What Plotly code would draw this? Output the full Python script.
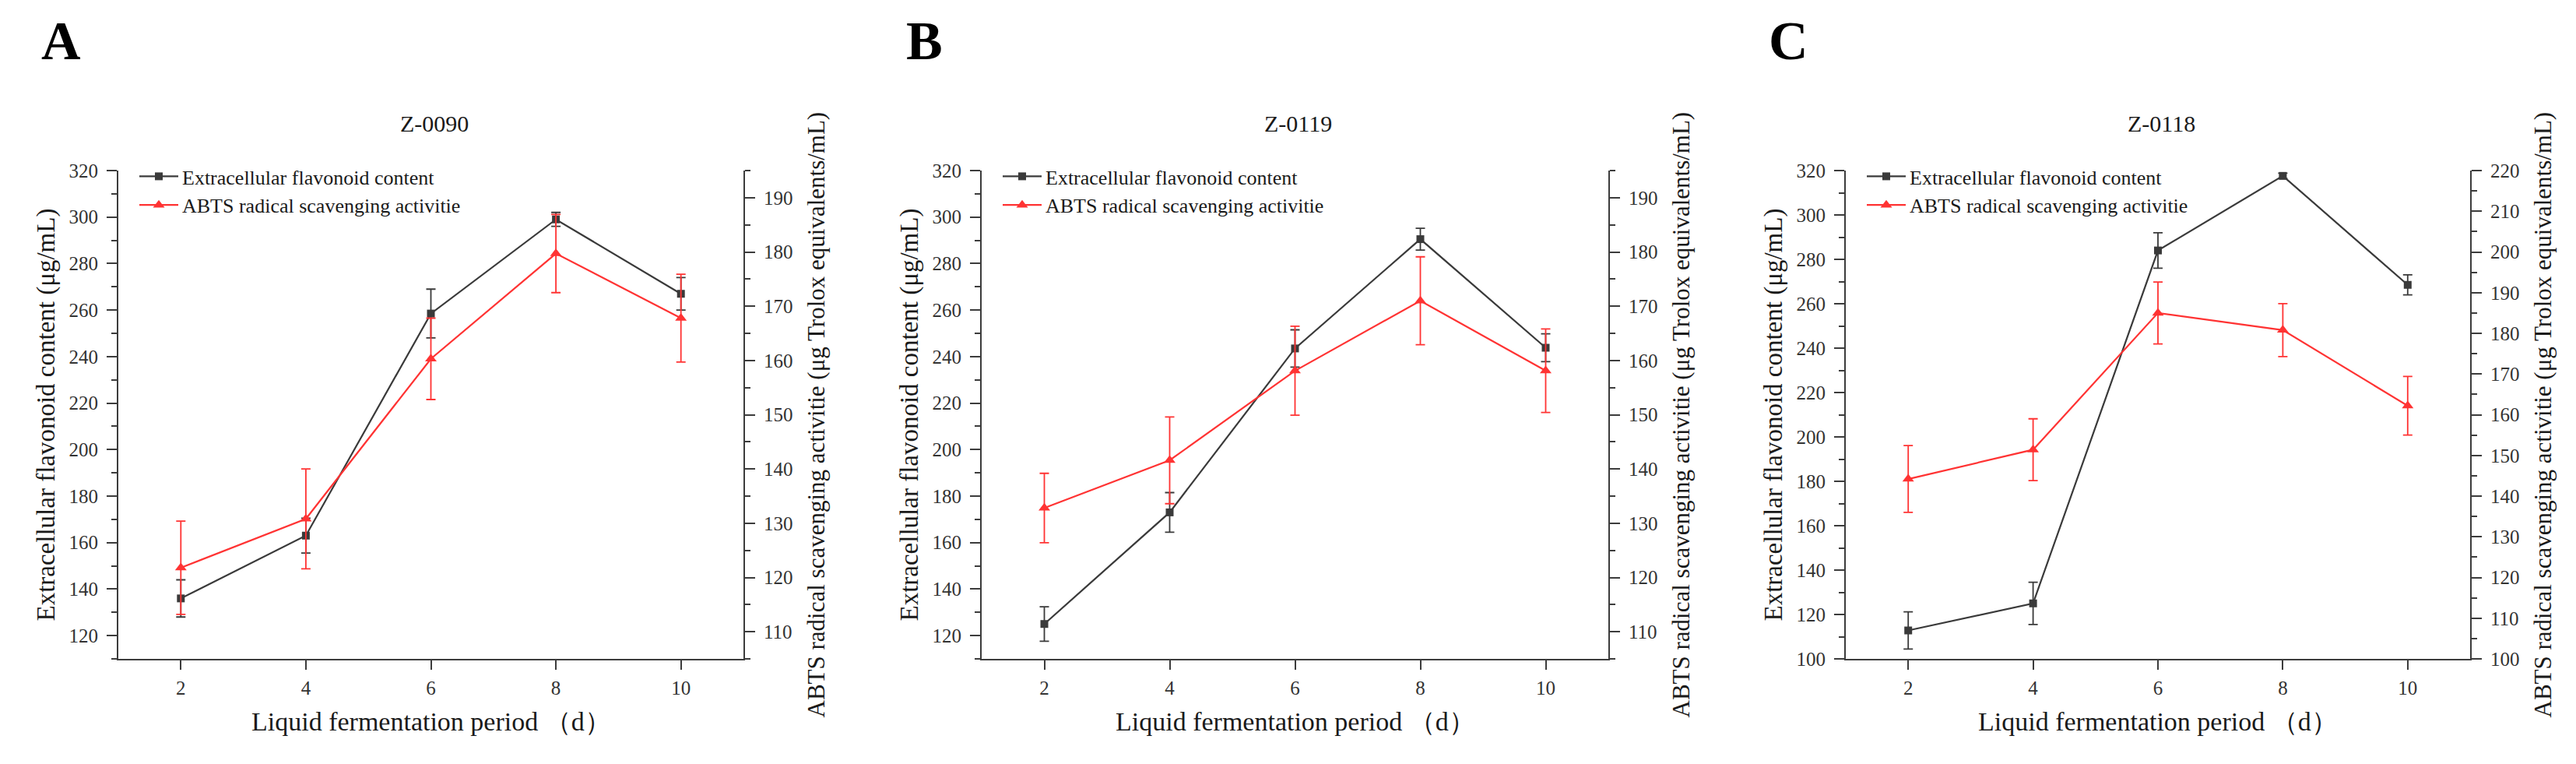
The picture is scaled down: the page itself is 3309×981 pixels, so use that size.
import plotly.graph_objects as go

# fermentation days on the x axis
days = [2, 4, 6, 8, 10]
strains = ["Z-0090", "Z-0119", "Z-0118"]
letters = ["A", "B", "C"]

# extracellular flavonoid content (ug/mL), left axis
flav_a = [136, 163, 258.5, 299, 267]
flav_a_err = [8, 7.5, 10.5, 3, 7]
flav_b = [125, 173, 243.5, 290.5, 243.8]
flav_b_err = [7.4, 8.5, 8, 4.7, 6]
flav_c = [112.8, 125, 284, 317.6, 268.5]
flav_c_err = [8.4, 9.5, 8, 1.2, 4.5]

# ABTS radical scavenging activity (ug Trolox equivalents/mL), right axis
abts_a = [121.8, 130.8, 160.3, 179.7, 167.8]
abts_a_err = [8.6, 9.2, 7.5, 7.2, 8.1]
abts_b = [132.8, 141.6, 158.1, 171, 158.1]
abts_b_err = [6.4, 8, 8.2, 8.1, 7.7]
abts_c = [144.2, 151.4, 185, 180.8, 162.2]
abts_c_err = [8.2, 7.6, 7.6, 6.5, 7.2]

left_ranges = [[110, 320], [110, 320], [100, 320]]
right_ranges = [[105, 195], [105, 195], [100, 220]]

flav = [flav_a, flav_b, flav_c]
flav_err = [flav_a_err, flav_b_err, flav_c_err]
abts = [abts_a, abts_b, abts_c]
abts_err = [abts_a_err, abts_b_err, abts_c_err]

W, H = 3309, 981
FONT = "Liberation Serif, Times New Roman, serif"
DARK = "#3a3a3a"
RED = "#ff3333"
AXIS = "#3c3c3c"

# plot areas in pixels (left, right), shared top/bottom
panel_px = [(144, 947), (1253, 2058), (2363, 3165)]
top_px, bot_px = 211, 838


def px_x(v):
    return v / W


def px_y(v):
    return 1 - v / H


def label(text, x, y, size, angle=0, color="#1a1a1a"):
    return dict(text=text, x=px_x(x), y=px_y(y), xref="paper", yref="paper",
                xanchor="center", yanchor="middle", showarrow=False,
                textangle=angle, font=dict(family=FONT, size=size, color=color))


fig = go.Figure()

for i in range(3):
    n = i + 1
    xa = "x" if n == 1 else f"x{n}"
    yl = "y" if n == 1 else f"y{n}"
    yr = f"y{n + 3}"
    leg = "legend" if n == 1 else f"legend{n}"

    fig.add_trace(go.Scatter(
        x=days, y=flav[i], xaxis=xa, yaxis=yl, legend=leg,
        name="Extracellular flavonoid content",
        mode="lines+markers",
        line=dict(color=DARK, width=2.2),
        marker=dict(symbol="square", size=10, color=DARK),
        error_y=dict(type="data", array=flav_err[i], color=DARK, thickness=1.8, width=6),
    ))
    fig.add_trace(go.Scatter(
        x=days, y=abts[i], xaxis=xa, yaxis=yr, legend=leg,
        name="ABTS radical scavenging activitie",
        mode="lines+markers",
        line=dict(color=RED, width=2.2),
        marker=dict(symbol="triangle-up", size=13, color=RED),
        error_y=dict(type="data", array=abts_err[i], color=RED, thickness=1.8, width=6),
    ))

layout = dict(
    width=W, height=H,
    margin=dict(l=0, r=0, t=0, b=0),
    plot_bgcolor="white", paper_bgcolor="white",
    font=dict(family=FONT, color="#111111"),
    annotations=[],
)

tickfont = dict(family=FONT, size=25, color="#333333")
ydom = [px_y(bot_px), px_y(top_px)]

for i in range(3):
    n = i + 1
    left, right = panel_px[i]
    sfx = "" if n == 1 else str(n)
    layout[f"xaxis{sfx}"] = dict(
        domain=[px_x(left), px_x(right)], anchor="y" + sfx,
        range=[1, 11], tickvals=days, ticks="outside", ticklen=12, tickwidth=2,
        tickcolor=AXIS, showline=True, linewidth=2, linecolor=AXIS,
        showgrid=False, zeroline=False, tickfont=tickfont, ticklabelstandoff=2,
        automargin=False,
    )
    layout[f"yaxis{sfx}"] = dict(
        domain=ydom, anchor="x" + sfx, range=left_ranges[i], dtick=20, tick0=0,
        ticks="outside", ticklen=13, tickwidth=2, tickcolor=AXIS,
        minor=dict(dtick=10, tick0=0, ticks="outside", ticklen=7, tickwidth=2, tickcolor=AXIS),
        showline=True, linewidth=2, linecolor=AXIS, showgrid=False, zeroline=False,
        tickfont=tickfont, ticklabelstandoff=6, automargin=False,
    )
    layout[f"yaxis{n + 3}"] = dict(
        domain=ydom, anchor="x" + sfx, overlaying="y" + sfx, side="right",
        range=right_ranges[i], dtick=10, tick0=0,
        ticks="outside", ticklen=13, tickwidth=2, tickcolor=AXIS,
        minor=dict(dtick=5, tick0=0, ticks="outside", ticklen=7, tickwidth=2, tickcolor=AXIS),
        showline=True, linewidth=2, linecolor=AXIS, showgrid=False, zeroline=False,
        tickfont=tickfont, ticklabelstandoff=6, automargin=False,
    )
    layout["legend" if n == 1 else f"legend{n}"] = dict(
        x=px_x(left + 22), y=px_y(top_px - 16), xanchor="left", yanchor="top",
        bgcolor="rgba(0,0,0,0)", font=dict(family=FONT, size=26, color="#1a1a1a"),
        tracegroupgap=0, itemwidth=50,
    )

    mid = (left + right) / 2
    ymid = (top_px + bot_px) / 2
    ann = layout["annotations"]
    ann.append(label(f"<b>{letters[i]}</b>", left - 74, 45, 70, color="#000000"))
    ann.append(label(strains[i], mid + 4, 151, 30))
    ann.append(label("Liquid fermentation period （d）", mid, 918, 34))
    ann.append(label("Extracellular flavonoid content (μg/mL)", left - 93, ymid, 33, angle=-90))
    ann.append(label("ABTS radical scavenging activitie (μg Trolox equivalents/mL)",
                     right + 93, ymid, 31, angle=-90))

fig.update_layout(**layout)
fig.write_html("out.html")
